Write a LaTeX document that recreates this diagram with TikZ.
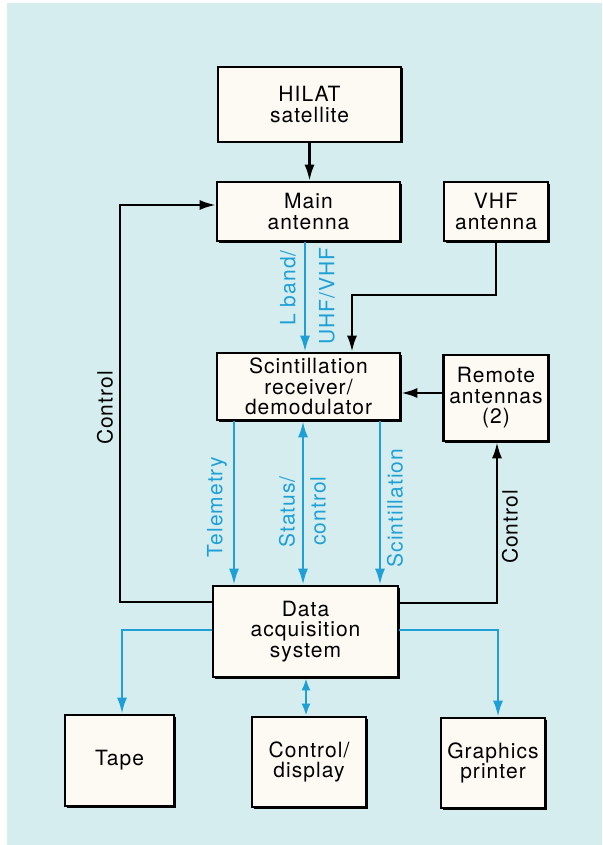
\documentclass[tikz,border=0pt]{standalone}
\usepackage{fontspec}
\setmainfont{TeX Gyre Heros}[LetterSpace=5]
\usetikzlibrary{arrows.meta,shadows}
\definecolor{bgcyan}{RGB}{214,237,239}
\definecolor{boxfill}{RGB}{253,250,244}
\definecolor{sigblue}{RGB}{30,160,215}
\begin{document}
\begin{tikzpicture}[x=1pt,y=-1pt,
    blk/.style={draw, line width=2.6pt, fill=boxfill, align=center, inner sep=0pt,
        font=\fontsize{21}{20.5}\selectfont,
        general shadow={fill=black, shadow xshift=1.5pt, shadow yshift=-1.5pt}},
    wire/.style={line width=2.3pt, -{Latex[length=16pt,width=10pt]}},
    sig/.style={wire, draw=sigblue, color=sigblue},
    lbl/.style={rotate=90, inner sep=0pt, font=\fontsize{21}{21}\selectfont}]
    \useasboundingbox (0,0) rectangle (602,845);
    \fill[white] (0,0) rectangle (602,845);
    \fill[bgcyan] (7,3) rectangle (602,845);

    % boxes
    \node[blk, minimum width=183pt, minimum height=75pt] (hilat) at (309.5,104.5) {HILAT\\satellite};
    \node[blk, minimum width=183pt, minimum height=59pt] (main) at (308.5,211.5) {Main\\antenna};
    \node[blk, minimum width=104pt, minimum height=59pt] (vhf) at (496,211.5) {VHF\\antenna};
    \node[blk, minimum width=183pt, minimum height=67pt] (scint) at (308.5,386.5) {Scintillation\\receiver/\\demodulator};
    \node[blk, minimum width=105pt, minimum height=86pt] (remote) at (496,398) {Remote\\antennas\\(2)};
    \node[blk, minimum width=185pt, minimum height=91pt] (daq) at (305.5,631.5) {Data\\acquisition\\system};
    \node[blk, minimum width=109pt, minimum height=91pt] (tape) at (119.5,760.5) {Tape};
    \node[blk, minimum width=114pt, minimum height=90pt] (ctrl) at (309,762) {Control/\\display};
    \node[blk, minimum width=104pt, minimum height=90pt] (printer) at (493,763) {Graphics\\printer};

    % bends and columns
    \coordinate (lb) at (305,0);
    \coordinate (vhfbend) at (352,295);
    \coordinate (rem) at (0,393);
    \coordinate (ctlleft) at (120,602);
    \coordinate (ctltop) at (120,205);
    \coordinate (ctlright) at (497,603);
    \coordinate (tel) at (234,0);
    \coordinate (stat) at (303,0);
    \coordinate (sci) at (380,0);
    \coordinate (outleft) at (122,630);
    \coordinate (outright) at (498,630);
    \coordinate (cd) at (306,0);

    % black connectors
    \draw[wire] (hilat.south) -- (hilat.south |- main.north);
    \draw[wire] (vhf.south) |- (vhfbend) -- (scint.north -| vhfbend);
    \draw[wire] (remote.west |- rem) -- (scint.east |- rem);
    \draw[wire] (daq.west |- ctlleft) -| (ctltop) -- (main.west |- ctltop);
    \draw[wire] (daq.east |- ctlright) -| (remote.south -| ctlright);

    % blue connectors
    \draw[sig] (main.south -| lb) -- (scint.north -| lb);
    \draw[sig] (scint.south -| tel) -- (daq.north -| tel);
    \draw[sig, {Latex[length=16pt,width=10pt]}-{Latex[length=16pt,width=10pt]}] (scint.south -| stat) -- (daq.north -| stat);
    \draw[sig] (scint.south -| sci) -- (daq.north -| sci);
    \draw[sig] (daq.west |- outleft) -| (tape.north -| outleft);
    \draw[sig] (daq.east |- outright) -| (printer.north -| outright);
    \draw[sig, {Latex[length=12pt,width=9pt]}-{Latex[length=12pt,width=9pt]}] (daq.south -| cd) -- (ctrl.north -| cd);

    % labels
    \node[lbl, sigblue] (lband) at (288,288) {L band/};
    \node[lbl, sigblue] (uhf) at (327,296) {UHF/VHF};
    \node[lbl] (ctlleftlbl) at (105,408) {Control};
    \node[lbl, sigblue] (tellbl) at (217,507) {Telemetry};
    \node[lbl, sigblue] (statlbl) at (287,512) {Status/};
    \node[lbl, sigblue] (ctllbl) at (318,511) {control};
    \node[lbl, sigblue] (scilbl) at (395,508) {Scintillation};
    \node[lbl] (ctlrightlbl) at (510,527) {Control};
\end{tikzpicture}
\end{document}
